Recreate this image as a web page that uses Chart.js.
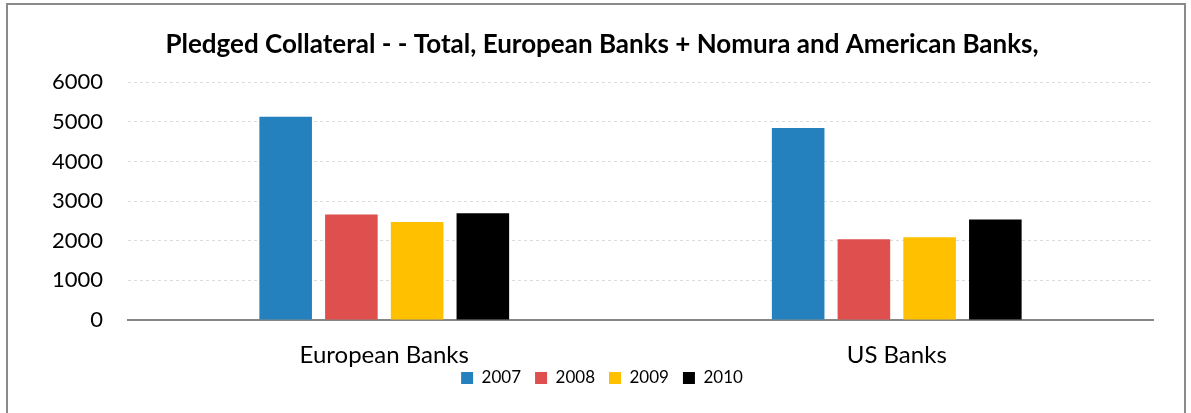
<html>
<head>
    <meta charset="utf-8">
    <title>Pledged Collateral</title>
    <style type="text/css">
        body { margin: 0; background: #fff; }
        .chart { position: absolute; left: 0; top: 0; width: 1191px; height: 413px; }
    </style>
    <script src="https://cdn.jsdelivr.net/npm/chart.js@4.4.0/dist/chart.umd.min.js"></script>
</head>
<body>
<div class="chart">
    <canvas id="barChart" width="1191" height="413"></canvas>
</div>

<script>
    // chart data
    var categories = ['European Banks', 'US Banks'];
    var years = ['2007', '2008', '2009', '2010'];
    var values2007 = [5130, 4845];
    var values2008 = [2660, 2035];
    var values2009 = [2475, 2090];
    var values2010 = [2695, 2535];
    var colours = ['#2581BE', '#DE4F4D', '#FFC000', '#000000'];

    var seriesValues = [values2007, values2008, values2009, values2010];
    var font = 'Lato, "Open Sans", sans-serif';

    // grey frame round the whole chart
    var framePlugin = {
        id: 'frame',
        beforeDraw: function(chart) {
            var ctx = chart.ctx;
            ctx.save();
            ctx.fillStyle = '#fff';
            ctx.fillRect(0, 0, chart.width, chart.height);
            ctx.strokeStyle = '#8a8a8a';
            ctx.lineWidth = 2;
            ctx.strokeRect(7, 4, 1178, 420);
            ctx.restore();
        }
    };

    // legend sits close under the category labels, pull it up a bit
    var legendShift = 14.5;
    var legendShiftPlugin = {
        id: 'legendShift',
        afterLayout: function(chart) {
            chart.legend.top -= legendShift;
            chart.legend.bottom -= legendShift;
        }
    };

    var datasets = years.map(function(year, i) {
        return {
            label: year,
            data: seriesValues[i],
            backgroundColor: colours[i],
            barPercentage: 0.8,
            categoryPercentage: 0.513
        };
    });

    var ctx = document.getElementById('barChart').getContext('2d');
    var barChart = new Chart(ctx, {
        type: 'bar',
        data: { labels: categories, datasets: datasets },
        plugins: [framePlugin, legendShiftPlugin],
        options: {
            responsive: false,
            animation: false,
            layout: { padding: { top: 18, left: 13, right: 0, bottom: 2 } },
            plugins: {
                title: {
                    display: true,
                    text: 'Pledged Collateral - - Total, European Banks + Nomura and American Banks,',
                    color: '#000',
                    font: { family: font, size: 26, weight: 'bold' },
                    padding: { top: 11, bottom: 22 }
                },
                legend: {
                    position: 'bottom',
                    labels: {
                        color: '#000',
                        font: { family: font, size: 17, lineHeight: 1 },
                        boxWidth: 12,
                        boxHeight: 12,
                        padding: 14
                    }
                },
                tooltip: { enabled: false }
            },
            scales: {
                x: {
                    afterFit: function(scale) { scale.height = 50; },
                    grid: { display: false, drawTicks: false },
                    border: { display: true, color: '#868686', width: 2 },
                    ticks: { color: '#000', font: { family: font, size: 24 }, padding: 21 }
                },
                y: {
                    min: 0,
                    max: 6000,
                    afterFit: function(scale) { scale.width = 115; },
                    grid: { color: '#dcdcdc', drawTicks: false },
                    border: { display: false, dash: [3, 3] },
                    ticks: {
                        stepSize: 1000,
                        color: '#000',
                        font: { family: font, size: 22 },
                        padding: 25,
                        callback: function(value) { return String(value); }
                    }
                },
                // empty right axis, only keeps room at the right of the plot
                yRight: {
                    position: 'right',
                    afterFit: function(scale) { scale.width = 38; },
                    grid: { display: false, drawTicks: false },
                    border: { display: false },
                    ticks: { display: false }
                }
            }
        }
    });
</script>
</body>
</html>
